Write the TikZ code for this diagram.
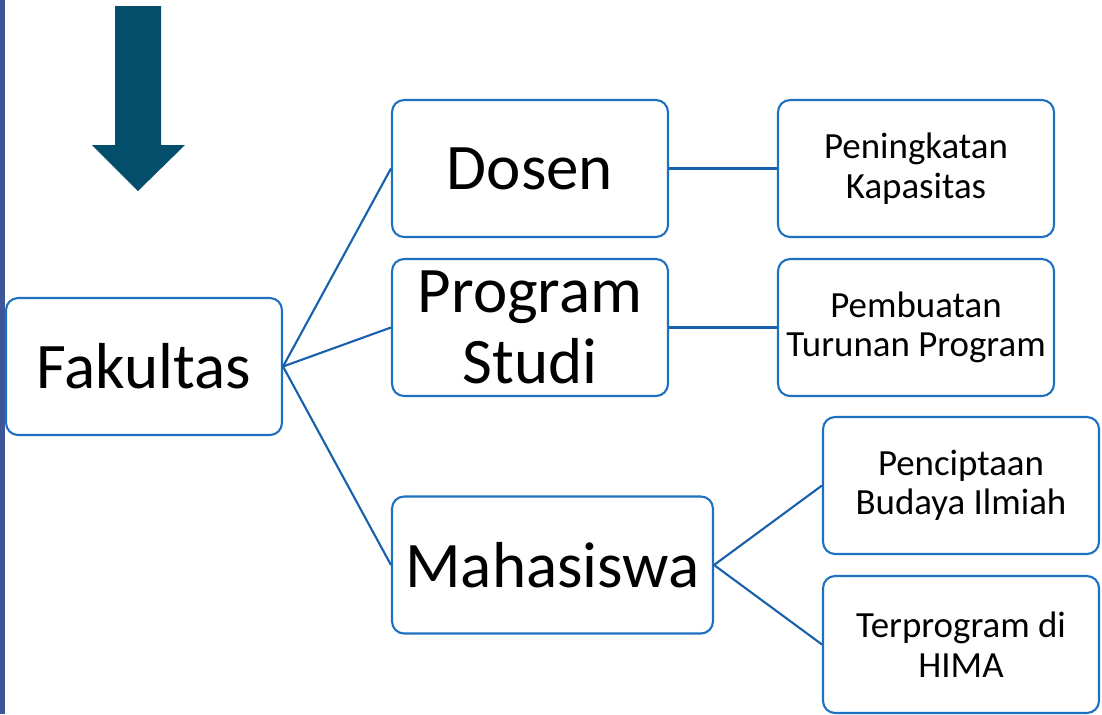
\documentclass[tikz,border=0pt]{standalone}
\usepackage{fontspec}
\setmainfont{Carlito}
\usepackage{tikz}
\usetikzlibrary{positioning,calc}

\definecolor{boxblue}{RGB}{30,112,193}
\definecolor{linkblue}{RGB}{24,96,172}
\definecolor{arrowteal}{RGB}{3,78,107}
\definecolor{sidebar}{RGB}{62,86,152}

\begin{document}
\begin{tikzpicture}[x=0.02cm,y=-0.02cm,
			unit/.style={rectangle,rounded corners=0.24cm,draw=boxblue,line width=1.2pt,fill=white,
				minimum width=5.52cm,minimum height=2.74cm,inner sep=0pt,align=center,
				font=\fontsize{37}{40}\selectfont},
			task/.style={unit,font=\fontsize{21}{22.5}\selectfont},
			link/.style={draw=linkblue,line width=1.2pt}]
		\useasboundingbox (0,0) rectangle (1102,714);
		\fill[sidebar] (0,0) rectangle (5,714);
		% arrow
		\fill[arrowteal] (115,6) -- (161,6) -- (161,145) -- (185,145) -- (138,191)
			-- (92,145) -- (115,145) -- cycle;
		\path 	(144,366.5) 	node 	(fak) [unit] {Fakultas}
		        (530,168.5) 	node 	(dos) [unit] {Dosen}
		        (530,327.5) 	node 	(prodi) [unit] {Program\\Studi}
		        (552.5,565) 	node 	(mhs) [unit, minimum width=6.42cm] {Mahasiswa}
		        (916,168.5) 	node 	(kap) [task] {Peningkatan\\Kapasitas}
		        (916,327.5) 	node 	(turun) [task] {Pembuatan\\Turunan Program}
		        (961,485.5) 	node 	(budaya) [task] {Penciptaan\\Budaya Ilmiah}
		        (961,644.5) 	node 	(hima) [task] {Terprogram di\\HIMA};
		\draw [link] (fak.east) -- (dos.west);
		\draw [link] (fak.east) -- (prodi.west);
		\draw [link] (fak.east) -- (mhs.west);
		\draw [link] (dos.east) -- (kap.west);
		\draw [link] (prodi.east) -- (turun.west);
		\draw [link] (mhs.east) -- (budaya.west);
		\draw [link] (mhs.east) -- (hima.west);
	\end{tikzpicture}
\end{document}
